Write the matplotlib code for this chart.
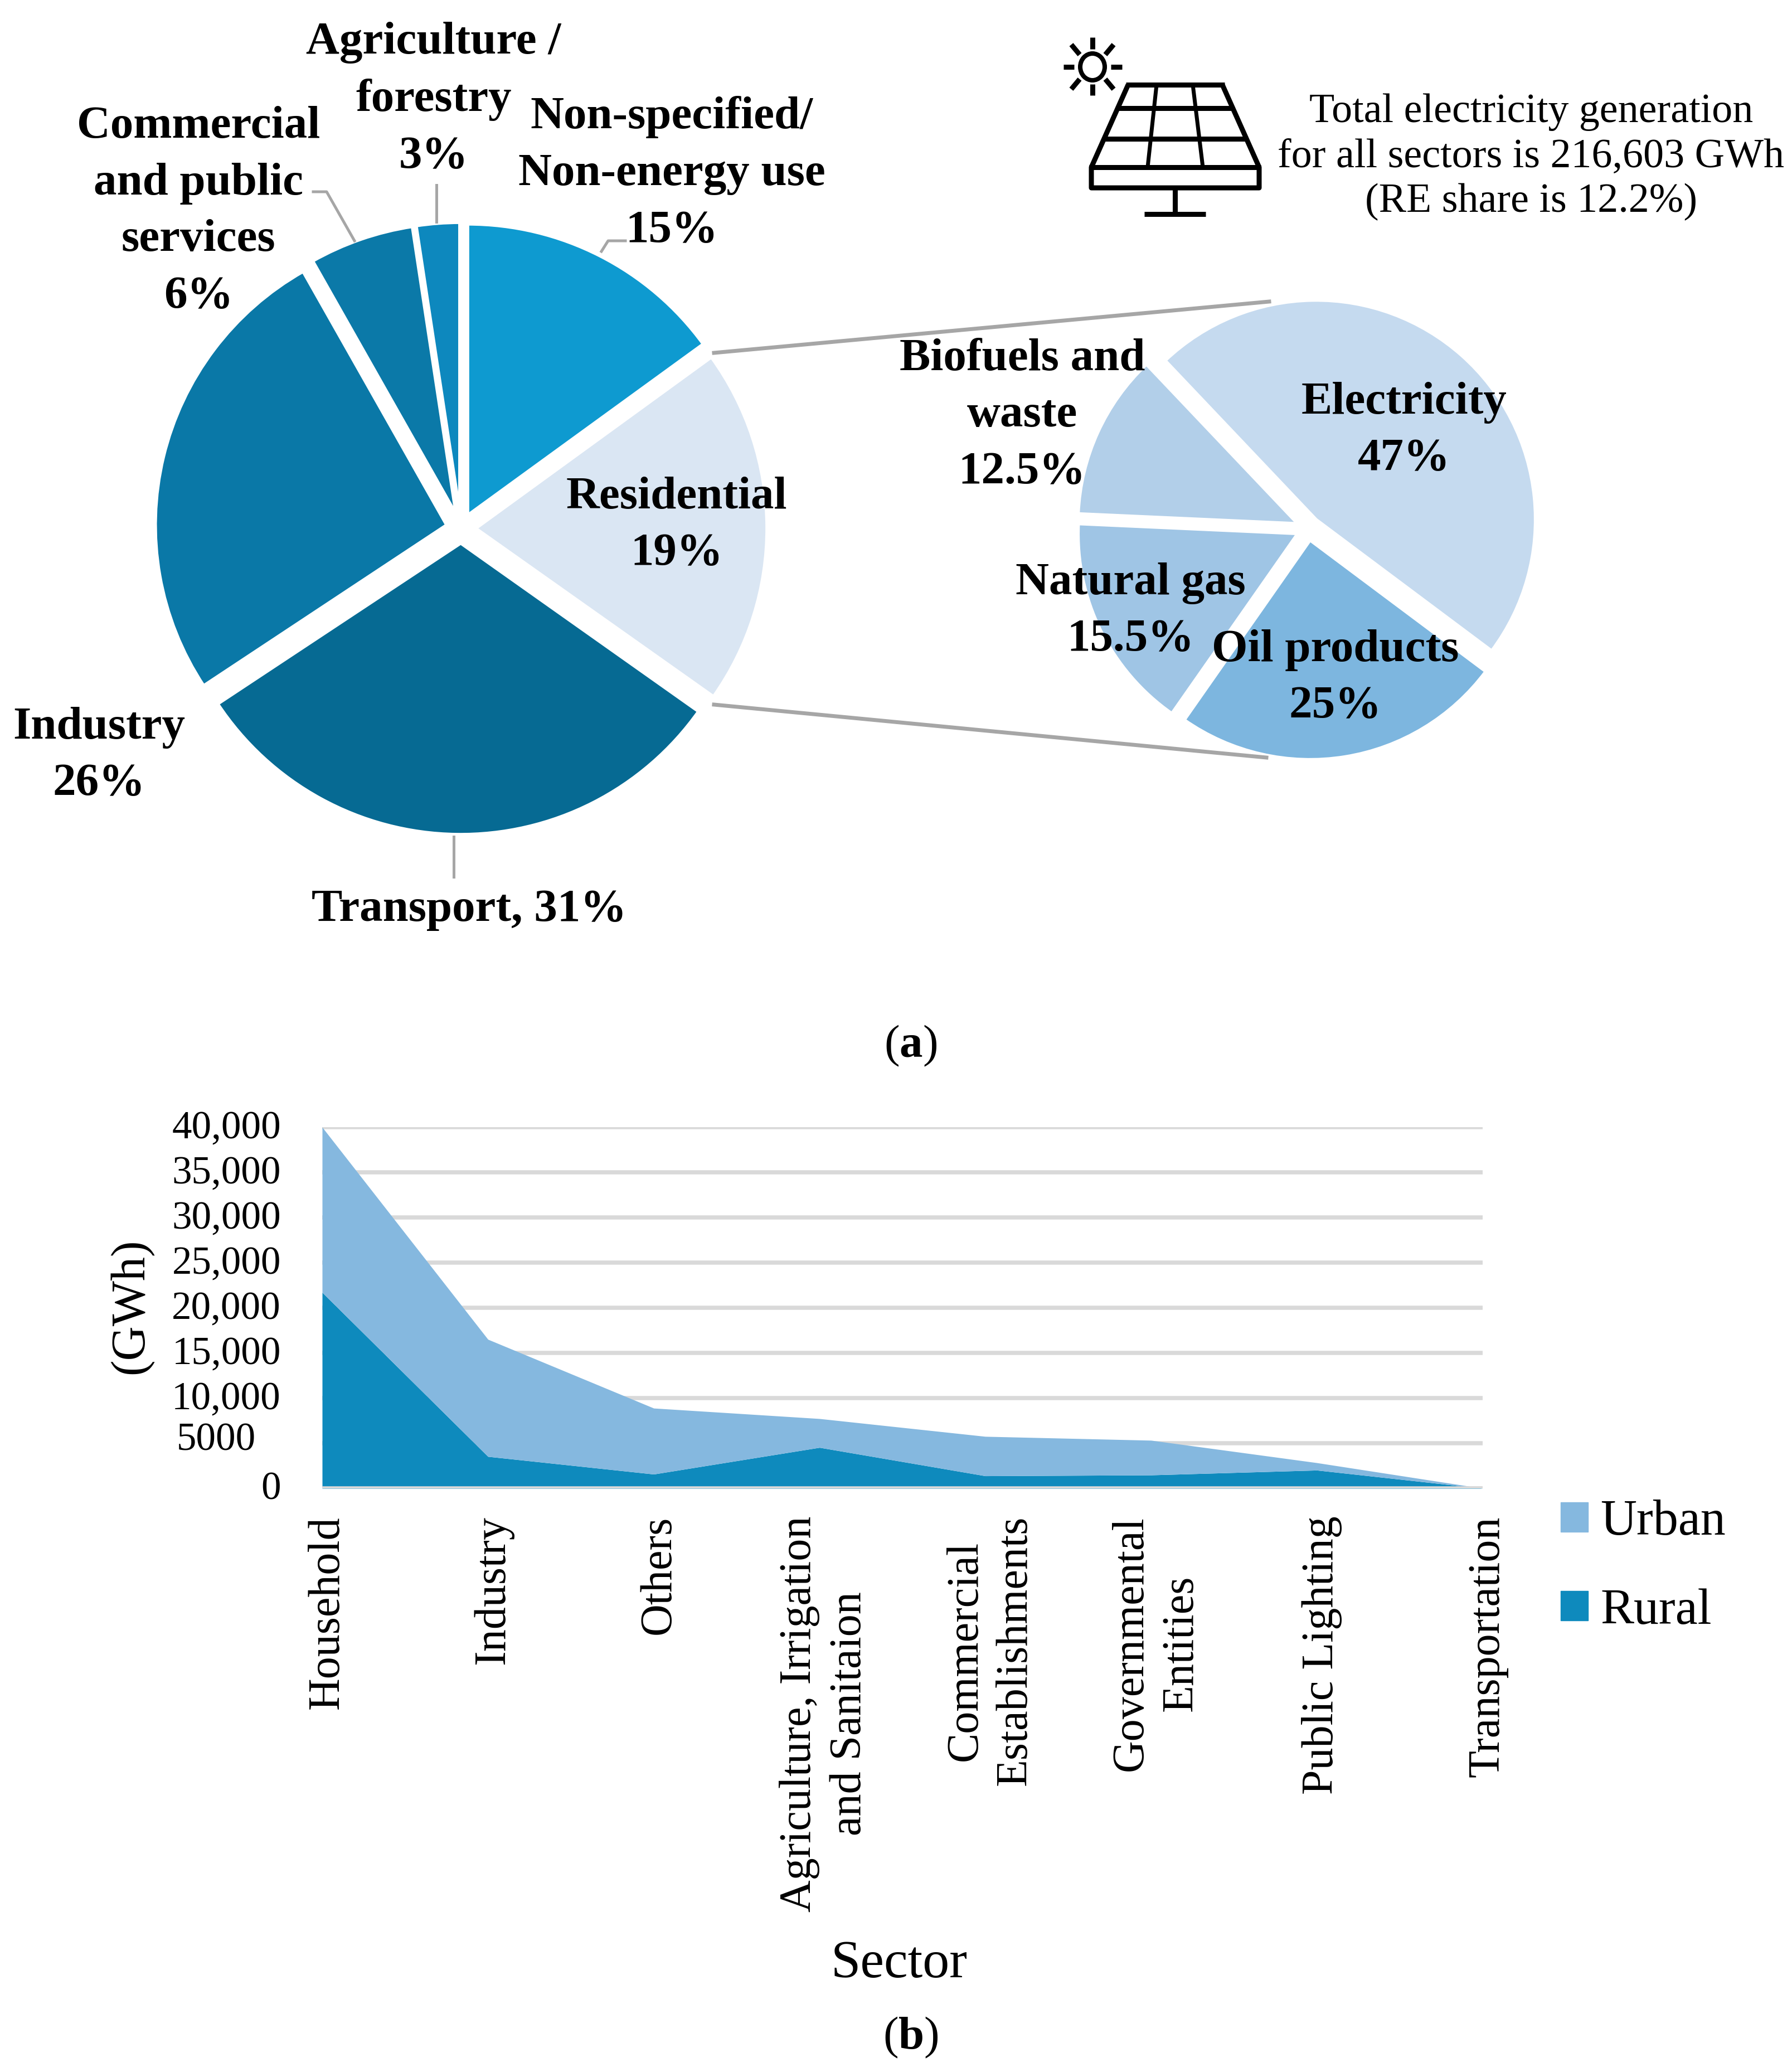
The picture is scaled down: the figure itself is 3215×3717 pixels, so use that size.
#!/usr/bin/env python3
# Final energy use by sector and electricity use by sector (rural / urban)
import numpy as np
from matplotlib import pyplot as plt
from matplotlib.patches import Patch, Ellipse
from matplotlib.transforms import ScaledTranslation

W, H = 3215, 3717
SERIF = 'Liberation Serif'
plt.rcParams['font.family'] = SERIF
plt.rcParams['mathtext.fontset'] = 'custom'
plt.rcParams['mathtext.rm'] = SERIF
plt.rcParams['mathtext.bf'] = SERIF + ':bold'

# main pie, clockwise from twelve o'clock
# wedge sizes as measured on the picture, the printed (rounded) shares are in the labels
sector_values = [15, 19.8, 30.9, 26.1, 5.8, 2.4]
sector_colors = ['#0E9AD0', '#DAE6F3', '#066A93', '#0A78A7', '#0B79A8', '#0D88BE']

# residential pie, measured the same way
res_values = [47.3, 24.5, 16, 12.2]
res_colors = ['#C5DAEF', '#7DB6DF', '#9FC5E5', '#B2CFE9']

# area chart
sectors = ['Household', 'Industry', 'Others', 'Agriculture, Irrigation\nand Sanitaion',
           'Commercial\nEstablishments', 'Governmental\nEntities', 'Public Lighting',
           'Transportation']
rural = [21700, 3530, 1575, 4530, 1385, 1480, 2015, 0]
urban = [18300, 12970, 7305, 3190, 4365, 3840, 820, 0]
y_ticks = [0, 5000, 10000, 15000, 20000, 25000, 30000, 35000, 40000]
y_labels = ['0', '', '10,000', '15,000', '20,000', '25,000', '30,000', '35,000', '40,000']

# label text with centre position in pixels
bold_labels = [
    ('Agriculture /\nforestry\n3%', 778, 179),
    ('Non-specified/\nNon-energy use\n15%', 1205, 312),
    ('Commercial\nand public\nservices\n6%', 356, 380),
    ('Residential\n19%', 1214, 943),
    ('Industry\n26%', 178, 1356),
    ('Transport, 31%', 842, 1632),
    ('Biofuels and\nwaste\n12.5%', 1834, 746),
    ('Electricity\n47%', 2519, 773),
    ('Natural gas\n15.5%', 2028, 1097),
    ('Oil products\n25%', 2396, 1217),
]
note_text = 'Total electricity generation\nfor all sectors is 216,603 GWh\n(RE share is 12.2%)'


def px(n):
    return n * 0.72


def px_axes(x0, y0, x1, y1):
    return fig.add_axes([x0 / W, 1 - y1 / H, (x1 - x0) / W, (y1 - y0) / H])


def pie_axes(cx, cy, r):
    # pie() leaves 1.25 radius on each side
    return px_axes(cx - 1.25 * r, cy - 1.25 * r, cx + 1.25 * r, cy + 1.25 * r)


def draw_panel(ax):
    k = dict(color='black', solid_capstyle='butt', lw=px(9))
    # sun
    ax.add_patch(Ellipse((1960, 120), 44, 48, fill=False, ec='black', lw=px(8)))
    for x0, y0, x1, y1 in [(1908, 120, 1927, 120), (1993, 120, 2013, 120),
                           (1960, 67, 1960, 88), (1960, 151, 1960, 171),
                           (1922, 80, 1937, 98), (1998, 80, 1983, 98),
                           (1922, 160, 1937, 142), (1998, 160, 1983, 142)]:
        ax.plot([x0, x1], [y0, y1], **k)
    # panel
    ax.plot([2020, 2197], [152, 152], **k)
    ax.plot([1954, 2262], [300, 300], **k)
    ax.plot([2024, 1958, 1958, 2259, 2259, 2193], [152, 300, 337, 337, 300, 152], **k)
    ax.plot([2005, 2212], [194, 194], **k)
    ax.plot([1981, 2236], [249, 249], **k)
    ax.plot([2075, 2059], [152, 300], color='black', lw=px(7))
    ax.plot([2140, 2158], [152, 300], color='black', lw=px(7))
    # stand
    ax.plot([2108, 2108], [337, 384], **k)
    ax.plot([2053, 2163], [384, 384], **k)


fig = plt.figure(figsize=(W / 100, H / 100), dpi=100, facecolor='white')

# pies
ax1 = pie_axes(827, 948, 523)
ax1.pie(sector_values, colors=sector_colors, startangle=90, counterclock=False,
        explode=[0.05] * len(sector_values),
        wedgeprops={'edgecolor': 'white', 'linewidth': px(6), 'joinstyle': 'round'})
ax2 = pie_axes(2347, 948, 393)
ax2.pie(res_values, colors=res_colors, startangle=133.5, counterclock=False,
        explode=[0.055] * len(res_values),
        wedgeprops={'edgecolor': 'white', 'linewidth': px(5), 'joinstyle': 'round'})

# area chart
ax3 = px_axes(578, 2022, 2660, 2670)
x = np.arange(len(sectors))
ax3.set_axisbelow(True)
ax3.grid(axis='y', color='#D9D9D9', lw=px(7.5))
h_rural = ax3.fill_between(x, 0, rural, color='#0E8ABD', lw=0, zorder=2)
h_urban = ax3.fill_between(x, rural, np.array(rural) + np.array(urban), color='#85B8DF', lw=0, zorder=2)
ax3.axhline(0, color='#D9D9D9', lw=px(7.5), zorder=3)
ax3.set_xlim(0, 7)
ax3.set_ylim(0, 40000)
for s in ax3.spines.values():
    s.set_visible(False)
ax3.set_xticks(x)
ax3.set_xticklabels(sectors, rotation=90, fontsize=px(80), linespacing=1.3)
ax3.set_yticks(y_ticks)
ax3.set_yticklabels(y_labels, fontsize=px(71), va='center_baseline')
ax3.tick_params(axis='x', length=0, pad=px(49))
ax3.tick_params(axis='y', length=0, pad=px(74))
# tick_params resets the label transforms, so nudge them after it
x_shift = ScaledTranslation(0.09, 0, fig.dpi_scale_trans)
for lab in ax3.get_xticklabels():
    lab.set_transform(lab.get_transform() + x_shift)
y_shift = ScaledTranslation(0, 0.05, fig.dpi_scale_trans)
for lab in ax3.get_yticklabels():
    lab.set_transform(lab.get_transform() + y_shift)
ax3.annotate('5000', xy=(0, 5000), xycoords=ax3.get_yaxis_transform(), xytext=(-119 * 0.72, 12 * 0.72),
             textcoords='offset points', ha='right', va='center_baseline', fontsize=px(71))
ax3.set_ylabel('(GWh)', fontsize=px(86))
ax3.yaxis.set_label_coords(-0.145, 0.505)
ax3.set_xlabel('Sector', fontsize=px(96), va='center')
ax3.xaxis.set_label_coords(0.497, -1.317)
ax3.legend(handles=[Patch(color='#85B8DF', label='Urban'), Patch(color='#0E8ABD', label='Rural')],
           loc='upper left', bbox_to_anchor=(2773 / W, 1 - 2663 / H), bbox_transform=fig.transFigure,
           frameon=False, fontsize=px(90), handlelength=0.54, handleheight=0.54,
           labelspacing=0.85, handletextpad=0.25, borderpad=0.3, borderaxespad=0)

# everything placed in pixels goes on a clear top layer
top = fig.add_axes([0, 0, 1, 1], zorder=5)
top.set_xlim(0, W)
top.set_ylim(H, 0)
top.axis('off')

# connector lines between the pies
top.plot([1281, 2277], [633, 541], color='#A6A6A6', lw=px(7), zorder=1)
top.plot([1281, 2272], [1264, 1359], color='#A6A6A6', lw=px(7), zorder=1)

# leader lines
for xs, ys in [([783, 783], [332, 398]), ([562, 586, 636], [344, 344, 432]),
               ([1122, 1091, 1079], [432, 432, 451]), ([814, 814], [1501, 1573])]:
    top.plot(xs, ys, color='#A6A6A6', lw=px(5), zorder=1)

for txt, tx, ty in bold_labels:
    top.text(tx, ty, txt, ha='center', va='center', fontsize=px(83), fontweight='bold', linespacing=1.47)

draw_panel(top)
top.text(2747, 282, note_text, ha='center', va='center', fontsize=px(74), linespacing=1.25)

top.text(1634, 1876, r'$(\mathbf{a})$', ha='center', va='center', fontsize=px(83))
top.text(1634, 3655, r'$(\mathbf{b})$', ha='center', va='center', fontsize=px(83))

plt.savefig('out.png', dpi=100)
